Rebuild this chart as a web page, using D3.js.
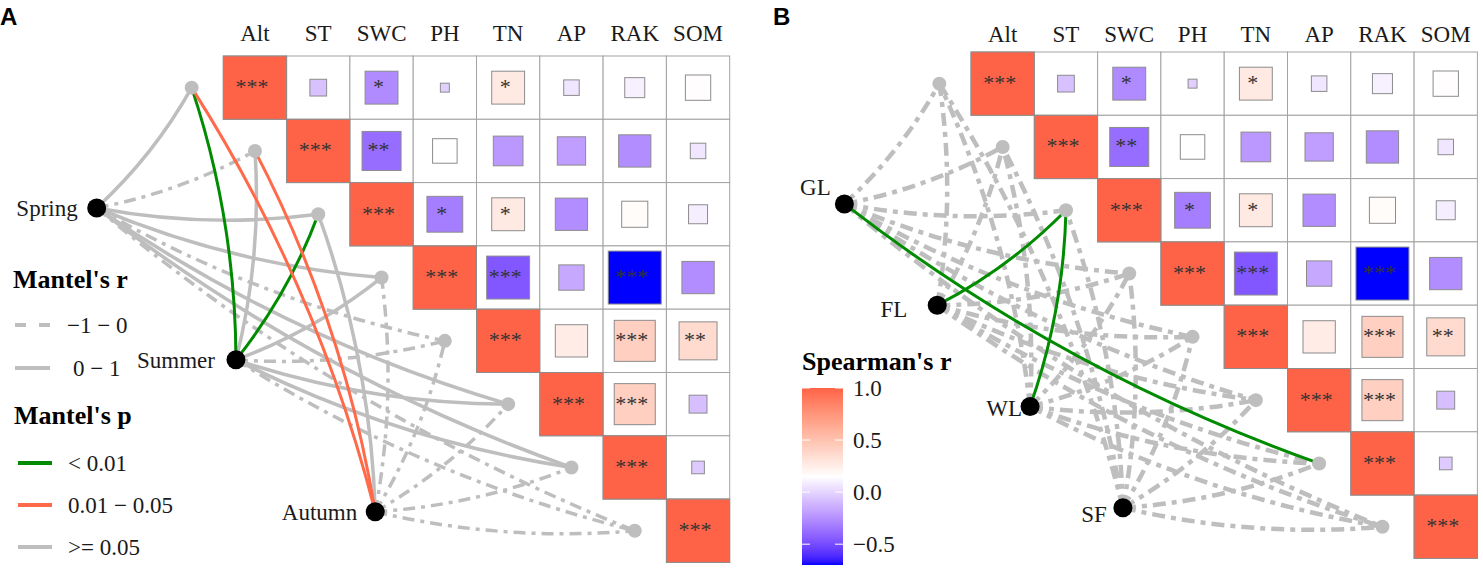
<!DOCTYPE html>
<html><head><meta charset="utf-8">
<script src="https://cdn.jsdelivr.net/npm/d3@7"></script>
<style>body{margin:0;background:#fff}svg{display:block}</style>
</head><body><svg id="c" width="1483" height="572"></svg>
<script>
// ---------------- DATA ----------------
const vars = ["Alt","ST","SWC","PH","TN","AP","RAK","SOM"];
// Spearman's r, upper triangle (each row starts at the diagonal)
const corrAlt = [1.00, -0.07, -0.27, -0.02, 0.27, 0.06, 0.10, 0.16];
const corrST  = [1.00, -0.38, 0.15, -0.22, -0.20, -0.26, 0.06];
const corrSWC = [1.00, -0.32, 0.27, -0.26, 0.17, 0.09];
const corrPH  = [1.00, -0.46, -0.16, -0.70, -0.26];
const corrTN  = [1.00, 0.26, 0.42, 0.36];
const corrAP  = [1.00, 0.42, -0.08];
const corrRAK = [1.00, -0.04];
const corrSOM = [1.00];
const sigAlt = ["***","","*","","*","","",""];
const sigST  = ["***","**","","","","",""];
const sigSWC = ["***","*","*","","",""];
const sigPH  = ["***","***","","***",""];
const sigTN  = ["***","","***","**"];
const sigAP  = ["***","***",""];
const sigRAK = ["***",""];
const sigSOM = ["***"];
const corrRows = [corrAlt,corrST,corrSWC,corrPH,corrTN,corrAP,corrRAK,corrSOM];
const sigRows  = [sigAlt,sigST,sigSWC,sigPH,sigTN,sigAP,sigRAK,sigSOM];

// Mantel tests, panel A (seasons)
const seasons = ["Spring","Summer","Autumn"];
const mantelR_Spring = [0.08,-0.03,0.05,0.04,-0.02,0.03,0.02,-0.04];
const mantelP_Spring = [0.21,0.62,0.35,0.40,0.71,0.44,0.52,0.80];
const mantelR_Summer = [0.21,0.06,0.19,0.05,-0.03,0.04,0.03,-0.05];
const mantelP_Summer = [0.004,0.30,0.008,0.22,0.60,0.31,0.42,0.70];
const mantelR_Autumn = [0.15,0.13,0.06,-0.02,-0.04,-0.03,-0.05,-0.06];
const mantelP_Autumn = [0.02,0.03,0.15,0.60,0.70,0.62,0.80,0.90];
// Mantel tests, panel B (sites)
const sites = ["GL","FL","WL","SF"];
const mantelR_GL = [-0.05,-0.04,-0.06,-0.03,-0.02,-0.04,0.25,-0.03];
const mantelP_GL = [0.60,0.55,0.70,0.50,0.45,0.65,0.002,0.58];
const mantelR_FL = [-0.04,-0.05,0.22,-0.03,-0.06,-0.02,-0.04,-0.05];
const mantelP_FL = [0.55,0.62,0.003,0.48,0.71,0.40,0.57,0.66];
const mantelR_WL = [-0.03,-0.06,0.20,-0.04,-0.02,-0.05,-0.03,-0.04];
const mantelP_WL = [0.52,0.73,0.005,0.58,0.41,0.66,0.50,0.61];
const mantelR_SF = [-0.06,-0.04,-0.05,-0.03,-0.04,-0.02,-0.05,-0.06];
const mantelP_SF = [0.75,0.58,0.64,0.47,0.55,0.39,0.68,0.77];

const rLegend = ["\u22121 \u2212 0","0 \u2212 1"];
const pLegend = ["< 0.01","0.01 \u2212 0.05",">= 0.05"];
const cbTicks = [-0.5, 0.0, 0.5, 1.0];

// ---------------- STYLE / LAYOUT ----------------
const serif = "'Liberation Serif','Times New Roman',serif";
const sans = "'Liberation Sans',Arial,sans-serif";
const GREY = "#BEBEBE", GREEN = "#008B00", ORANGE = "#FF6A4A", TOMATO = "#FF6347";
const pColor = p => p < 0.01 ? GREEN : (p < 0.05 ? ORANGE : GREY);

const svg = d3.select("#c");
const allR = corrRows.flat();
const cmin = d3.min(allR), cmax = d3.max(allR);
const color = d3.scaleLinear().domain([cmin,(cmin+cmax)/2,cmax])
  .range(["#0000FF","#FFFFFF",TOMATO]).interpolate(d3.interpolateLab);

function curvePath(x1,y1,x2,y2,k){
  const dx=x2-x1, dy=y2-y1;
  const cx=(x1+x2)/2 - k*dy, cy=(y1+y2)/2 + k*dx;
  return `M${x1},${y1}Q${cx},${cy} ${x2},${y2}`;
}

function drawPanel(cfg, envs, mR, mP){
  const g = svg.append("g");
  const n = vars.length, cell = cfg.cell;
  const x = d3.scaleBand().domain(vars).range([cfg.x0, cfg.x0 + n*cell]);
  const y = d3.scaleBand().domain(vars).range([cfg.y0, cfg.y0 + n*cell]);
  const ux = d3.scaleLinear().domain([0,n]).range([cfg.x0, cfg.x0+n*cell]);
  const uy = d3.scaleLinear().domain([0,n]).range([cfg.y0, cfg.y0+n*cell]);

  // env nodes positions (cell units, evenly spaced)
  const envPos = envs.map((e,i)=>{
    const t = envs.length>1 ? i/(envs.length-1) : 0;
    return [ux(cfg.envA[0] + t*(cfg.envB[0]-cfg.envA[0])), uy(cfg.envA[1] + t*(cfg.envB[1]-cfg.envA[1]))];
  });
  const varPos = vars.map((v,k)=>[ux(k-0.5), uy(k+0.5)]);

  // links
  const links = [];
  envs.forEach((e,i)=>vars.forEach((v,k)=>links.push({i,k,r:mR[i][k],p:mP[i][k]})));
  links.sort((a,b)=> (a.p<0.05) - (b.p<0.05));
  g.append("g").selectAll("path").data(links).join("path")
    .attr("d", d=>curvePath(envPos[d.i][0],envPos[d.i][1],varPos[d.k][0],varPos[d.k][1],0.08))
    .attr("fill","none")
    .attr("stroke", d=>pColor(d.p))
    .attr("stroke-width", d=> d.p<0.05 ? 3 : cfg.linkW)
    .attr("stroke-dasharray", d=> d.r<0 ? cfg.dash : null);

  // nodes
  g.append("g").selectAll("circle").data(varPos).join("circle")
    .attr("cx",d=>d[0]).attr("cy",d=>d[1]).attr("r",7).attr("fill",GREY);
  g.append("g").selectAll("circle").data(envPos).join("circle")
    .attr("cx",d=>d[0]).attr("cy",d=>d[1]).attr("r",9.5).attr("fill","#000");
  g.append("g").selectAll("text").data(envs).join("text")
    .attr("x",(d,i)=>envPos[i][0]+cfg.labOff[i][0])
    .attr("y",(d,i)=>envPos[i][1]+cfg.labOff[i][1])
    .attr("text-anchor",(d,i)=>cfg.labOff[i][2])
    .attr("dy","0.35em")
    .style("font-family",serif).style("font-size","23px").attr("fill","#1a1a1a")
    .text(d=>d);

  // correlation grid
  const cells = [];
  corrRows.forEach((row,i)=>row.forEach((r,jj)=>cells.push({i,j:i+jj,r,s:sigRows[i][jj]})));
  const cg = g.append("g");
  cg.selectAll("rect.cell").data(cells).join("rect").attr("class","cell")
    .attr("x",d=>x(vars[d.j])).attr("y",d=>y(vars[d.i]))
    .attr("width",x.bandwidth()).attr("height",y.bandwidth())
    .attr("fill","#fff").attr("stroke","#A3A3A3").attr("stroke-width",1);
  cg.selectAll("rect.sq").data(cells).join("rect").attr("class","sq")
    .each(function(d){
      const side = Math.sqrt(Math.abs(d.r))*x.bandwidth();
      const cx = x(vars[d.j])+x.bandwidth()/2, cy = y(vars[d.i])+y.bandwidth()/2;
      d3.select(this).attr("x",cx-side/2).attr("y",cy-side/2).attr("width",side).attr("height",side);
    })
    .attr("fill",d=>color(d.r)).attr("stroke","#8C8C8C").attr("stroke-width",1);
  cg.selectAll("text.sig").data(cells.filter(d=>d.s)).join("text").attr("class","sig")
    .attr("x",d=>x(vars[d.j])+x.bandwidth()/2-3)
    .attr("y",d=>y(vars[d.i])+y.bandwidth()/2+6.5)
    .attr("text-anchor","middle")
    .style("font-family",serif).style("font-size","22px").attr("fill","#333")
    .text(d=>d.s);
  // column labels
  g.append("g").selectAll("text").data(vars).join("text")
    .attr("x",d=>x(d)+x.bandwidth()/2).attr("y",cfg.labelY)
    .attr("text-anchor","middle")
    .style("font-family",serif).style("font-size","23px").attr("fill","#1a1a1a")
    .text(d=>d);
  // panel letter
  g.append("text").attr("x",cfg.letterX).attr("y",25)
    .style("font-family",sans).style("font-weight","bold").style("font-size","24px")
    .text(cfg.letter);
}

drawPanel({x0:223.3,y0:56,cell:63.3,labelY:41,envA:[-2,2.4],envB:[2.4,7.2],
  linkW:3.5,dash:"12,6,4,6",letter:"A",letterX:0,
  labOff:[[-19,0,"end"],[-21,0,"end"],[-18,0,"end"]]},
  seasons,[mantelR_Spring,mantelR_Summer,mantelR_Autumn],[mantelP_Spring,mantelP_Summer,mantelP_Autumn]);

drawPanel({x0:971,y0:52,cell:63.3,labelY:42,envA:[-2,2.4],envB:[2.4,7.2],
  linkW:4.5,dash:"13,6,5,6",letter:"B",letterX:773,
  labOff:[[-29,-17,"middle"],[-30,4,"end"],[-8,1,"end"],[-16,6,"end"]]},
  sites,[mantelR_GL,mantelR_FL,mantelR_WL,mantelR_SF],[mantelP_GL,mantelP_FL,mantelP_WL,mantelP_SF]);

// ---------------- LEGEND A ----------------
const lg = svg.append("g");
function title(t,xx,yy){
  lg.append("text").attr("x",xx).attr("y",yy)
    .style("font-family",serif).style("font-weight","bold").style("font-size","26px").attr("fill","#000").text(t);
}
function label(t,xx,yy){
  lg.append("text").attr("x",xx).attr("y",yy).attr("dy","0.35em")
    .style("font-family",serif).style("font-size","23px").attr("fill","#1a1a1a").text(t);
}
title("Mantel's r",13,288);
lg.append("line").attr("x1",15).attr("x2",50).attr("y1",325).attr("y2",325)
  .attr("stroke",GREY).attr("stroke-width",4).attr("stroke-dasharray","11,13");
label(rLegend[0],67,325);
lg.append("line").attr("x1",15).attr("x2",50).attr("y1",368).attr("y2",368)
  .attr("stroke",GREY).attr("stroke-width",4);
label(rLegend[1],73,368);
title("Mantel's p",14,424);
[GREEN,ORANGE,GREY].forEach((c,i)=>{
  const yy = 463 + i*42;
  lg.append("line").attr("x1",18).attr("x2",52).attr("y1",yy).attr("y2",yy)
    .attr("stroke",c).attr("stroke-width",4);
  label(pLegend[i],68,yy);
});

// ---------------- COLORBAR B ----------------
const cb = svg.append("g");
const cbY = d3.scaleLinear().domain([cmin,cmax]).range([565,388]);
const defs = svg.append("defs");
const grad = defs.append("linearGradient").attr("id","cbg").attr("x1",0).attr("x2",0).attr("y1",1).attr("y2",0);
d3.range(0,1.0001,0.02).forEach(t=>{
  grad.append("stop").attr("offset",t).attr("stop-color",color(cmin+t*(cmax-cmin)));
});
cb.append("rect").attr("x",802).attr("y",388).attr("width",41).attr("height",177).attr("fill","url(#cbg)");
cbTicks.forEach(v=>{
  const yy = cbY(v);
  cb.append("line").attr("x1",802).attr("x2",810).attr("y1",yy).attr("y2",yy).attr("stroke","#fff").attr("stroke-width",1);
  cb.append("line").attr("x1",835).attr("x2",843).attr("y1",yy).attr("y2",yy).attr("stroke","#fff").attr("stroke-width",1);
  cb.append("text").attr("x",853).attr("y",yy).attr("dy","0.35em")
    .style("font-family",serif).style("font-size","23px").attr("fill","#1a1a1a")
    .text(v<0 ? "\u2212"+d3.format(".1f")(-v) : d3.format(".1f")(v));
});
cb.append("text").attr("x",802).attr("y",370)
  .style("font-family",serif).style("font-weight","bold").style("font-size","26px").attr("fill","#000")
  .text("Spearman's r");
</script></body></html>
